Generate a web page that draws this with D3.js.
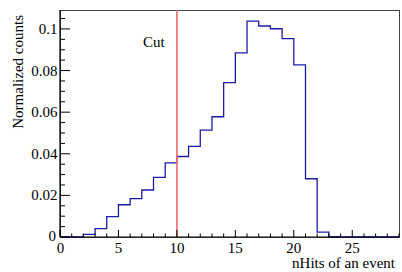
<!DOCTYPE html>
<html>
<head>
<meta charset="utf-8">
<script src="https://cdn.jsdelivr.net/npm/d3@7"></script>
<style>
  body { margin: 0; background: #fff; }
</style>
</head>
<body>
<svg id="chart" width="402" height="272" font-family="'Liberation Serif', 'Times New Roman', Times, serif"></svg>
<script>
// bin contents, one per unit-wide bin starting at 0
const binEdges = d3.range(0, 30)   // 0..29
const counts = [0, 0, 0.0013, 0.004, 0.0098, 0.0155, 0.0184, 0.0226, 0.0287, 0.0356,
    0.0387, 0.0436, 0.0514, 0.0578, 0.0742, 0.0885, 0.1038, 0.1014, 0.1001, 0.0953,
    0.0827, 0.028, 0.0023, 0.0002, 0, 0, 0, 0, 0]
const xTicks = [0, 5, 10, 15, 20, 25]
const yTicks = [0, 0.02, 0.04, 0.06, 0.08, 0.1]
const cutValue = 10

const svg = d3.select('#chart')

const x = d3.scaleLinear().domain([0, 29]).range([60, 399])
const y = d3.scaleLinear().domain([0, 0.1091]).range([237, 10])

// frame
svg.append('rect')
    .attr('x', 60.5).attr('y', 10.5)
    .attr('width', 339).attr('height', 227)
    .attr('fill', 'none')
    .attr('stroke', '#444')
    .attr('stroke-width', 1)

// histogram outline
const pts = counts.map((c, i) => [binEdges[i], c])
pts.push([29, counts[counts.length - 1]])

const line = d3.line()
    .x(d => x(d[0]))
    .y(d => y(d[1]))
    .curve(d3.curveStepAfter)

svg.append('path')
    .attr('d', line(pts))
    .attr('fill', 'none')
    .attr('stroke', '#1c1ca6')
    .attr('stroke-width', 1.3)

// cut line
svg.append('line')
    .attr('x1', x(cutValue)).attr('x2', x(cutValue))
    .attr('y1', y(0)).attr('y2', 10)
    .attr('stroke', '#f26a6a')
    .attr('stroke-width', 1.6)

svg.append('text')
    .attr('x', 143).attr('y', 47)
    .attr('font-size', 15)
    .text('Cut')

// axes lines
svg.append('line').attr('x1', 60).attr('x2', 399).attr('y1', 237).attr('y2', 237)
    .attr('stroke', '#000').attr('stroke-width', 1.2)
svg.append('line').attr('x1', 60).attr('x2', 60).attr('y1', 10).attr('y2', 237)
    .attr('stroke', '#000').attr('stroke-width', 1.2)

// x ticks (pointing inwards, ROOT style)
const xMinor = d3.range(0, 30, 1)
svg.append('g').selectAll('line').data(xMinor).join('line')
    .attr('x1', d => x(d)).attr('x2', d => x(d))
    .attr('y1', 237)
    .attr('y2', d => d % 5 === 0 ? 230 : 233.5)
    .attr('stroke', '#000')

svg.append('g').selectAll('text').data(xTicks).join('text')
    .attr('x', d => x(d) + (d === 0 ? 0.5 : 0))
    .attr('y', 252.5)
    .attr('text-anchor', 'middle')
    .attr('font-size', 15)
    .text(d => d)

// y ticks
const yMinor = d3.range(0, 0.109, 0.005)
svg.append('g').selectAll('line').data(yMinor).join('line')
    .attr('x1', 60)
    .attr('x2', (d, i) => i % 4 === 0 ? 70 : 65)
    .attr('y1', d => y(d)).attr('y2', d => y(d))
    .attr('stroke', '#000')

svg.append('g').selectAll('text').data(yTicks).join('text')
    .attr('x', d => d === 0 ? 56 : 57.5)
    .attr('y', d => y(d) + (d === 0 ? 4 : 5))
    .attr('text-anchor', 'end')
    .attr('font-size', 15)
    .text(d => d === 0 ? '0' : d3.format('~g')(d))

// axis titles
svg.append('text')
    .attr('x', 395).attr('y', 268)
    .attr('text-anchor', 'end')
    .attr('font-size', 15)
    .text('nHits of an event')

svg.append('text')
    .attr('transform', 'translate(22.5,15) rotate(-90)')
    .attr('text-anchor', 'end')
    .attr('font-size', 15)
    .text('Normalized counts')
</script>
</body>
</html>
